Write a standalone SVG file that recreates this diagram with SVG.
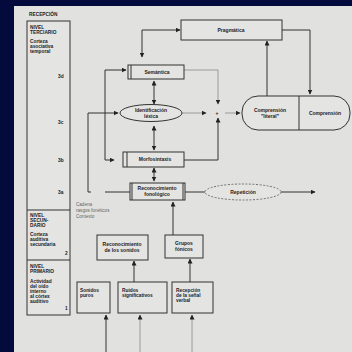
<svg xmlns="http://www.w3.org/2000/svg" width="352" height="352" viewBox="0 0 352 352">
<defs>
<marker id="ah" viewBox="0 0 10 10" refX="9" refY="5" markerWidth="5" markerHeight="5" orient="auto-start-reverse" markerUnits="userSpaceOnUse">
<path d="M0,0 L10,5 L0,10 z" fill="#222"/>
</marker>
<style>
.bx{fill:#e4e4e2;stroke:#333;stroke-width:1}
.ln{fill:none;stroke:#333;stroke-width:1}
.lg{fill:none;stroke:#888;stroke-width:0.8}
.t{font-family:"Liberation Sans",Arial,sans-serif;font-size:5px;fill:#222;font-weight:bold;text-anchor:middle}
.tl{font-family:"Liberation Sans",Arial,sans-serif;font-size:4.8px;fill:#222;font-weight:bold}
.tg{font-family:"Liberation Sans",Arial,sans-serif;font-size:4.6px;fill:#666}
</style>
</defs>
<rect width="352" height="352" fill="#030b3c"/>
<rect x="14" y="6" width="338" height="346" fill="#e1e1df"/>

<g id="levels">
<text class="tl" x="29" y="16">RECEPCIÓN</text>
<rect class="bx" x="27" y="21" width="43" height="294" fill="none"/>
<line class="ln" x1="27" y1="210" x2="70" y2="210"/>
<line class="ln" x1="27" y1="260" x2="70" y2="260"/>
<text class="tl" x="30" y="29">NIVEL</text>
<text class="tl" x="30" y="34">TERCIARIO</text>
<text class="tl" x="30" y="43">Corteza</text>
<text class="tl" x="30" y="48">asociativa</text>
<text class="tl" x="30" y="53">temporal</text>
<text class="tl" x="58" y="78">3d</text>
<text class="tl" x="58" y="124">3c</text>
<text class="tl" x="58" y="162">3b</text>
<text class="tl" x="58" y="194">3a</text>
<text class="tl" x="30" y="217">NIVEL</text>
<text class="tl" x="30" y="222">SECUN-</text>
<text class="tl" x="30" y="227">DARIO</text>
<text class="tl" x="30" y="236">Corteza</text>
<text class="tl" x="30" y="241">auditiva</text>
<text class="tl" x="30" y="246">secundaria</text>
<text class="tl" x="65" y="255">2</text>
<text class="tl" x="30" y="268">NIVEL</text>
<text class="tl" x="30" y="273">PRIMARIO</text>
<text class="tl" x="30" y="283">Actividad</text>
<text class="tl" x="30" y="288">del oído</text>
<text class="tl" x="30" y="293">interno</text>
<text class="tl" x="30" y="298">al córtex</text>
<text class="tl" x="30" y="303">auditivo</text>
<text class="tl" x="65" y="310">1</text>
</g>

<g id="connectors">
<polyline class="ln" points="142,57 142,30 180,30" marker-start="url(#ah)" marker-end="url(#ah)"/>
<polyline class="ln" points="282,30 310,30 310,94" marker-end="url(#ah)"/>
<line class="ln" x1="267" y1="96" x2="267" y2="41" marker-end="url(#ah)"/>
<polyline class="ln" points="114,160 105,160 105,70 126,70" marker-start="url(#ah)" marker-end="url(#ah)"/>
<polyline class="lg" points="184,70 218,70 218,104" marker-end="url(#ah)"/>
<polyline class="ln" points="184,160 218,160 218,118" marker-end="url(#ah)"/>
<line class="ln" x1="154" y1="81" x2="154" y2="104" marker-start="url(#ah)" marker-end="url(#ah)"/>
<line class="ln" x1="154" y1="126" x2="154" y2="150" marker-start="url(#ah)" marker-end="url(#ah)"/>
<line class="ln" x1="154" y1="168" x2="154" y2="181" marker-start="url(#ah)" marker-end="url(#ah)"/>
<polyline class="ln" points="91,192 88,192 88,113 118,113" marker-end="url(#ah)"/>
<line class="lg" x1="182" y1="113" x2="206" y2="113" marker-end="url(#ah)"/>
<line class="lg" x1="225" y1="113" x2="240" y2="113" marker-end="url(#ah)"/>
<line class="ln" x1="105" y1="192" x2="130" y2="192"/>
<line class="ln" x1="185" y1="192" x2="205" y2="192"/>
<line class="ln" x1="281" y1="192" x2="315" y2="192" marker-end="url(#ah)"/>
<line class="ln" x1="173" y1="235" x2="173" y2="202" marker-end="url(#ah)"/>
<line class="ln" x1="134" y1="282" x2="134" y2="261" marker-end="url(#ah)"/>
<line class="ln" x1="190" y1="282" x2="190" y2="259" marker-end="url(#ah)"/>
<line class="ln" x1="106" y1="352" x2="106" y2="315" stroke-width="1.4" marker-end="url(#ah)"/>
<line class="lg" x1="140" y1="352" x2="140" y2="315" marker-end="url(#ah)"/>
<line class="lg" x1="192" y1="352" x2="192" y2="315" marker-end="url(#ah)"/>
</g>

<g id="pragmatica">
<rect class="bx" x="181" y="20" width="101" height="20"/>
<text class="t" x="231" y="32">Pragmática</text>
</g>
<g id="semantica">
<rect class="bx" x="128" y="65" width="56" height="14"/>
<line class="ln" x1="131" y1="65" x2="131" y2="79" stroke-width="1.3"/>
<text class="t" x="157" y="74">Semántica</text>
</g>
<g id="identificacion">
<ellipse class="bx" cx="151" cy="113" rx="31" ry="8.5"/>
<text class="t" x="151" y="112">Identificación</text>
<text class="t" x="151" y="117.5">léxica</text>
</g>
<g id="morfosintaxis">
<rect class="bx" x="123" y="152" width="61" height="15"/>
<line class="ln" x1="127" y1="152" x2="127" y2="167" stroke-width="1.3"/>
<text class="t" x="155" y="161">Morfosintaxis</text>
</g>
<g id="reconocimiento-fonologico">
<rect class="bx" x="130" y="183" width="55" height="17"/>
<line class="ln" x1="132" y1="183" x2="132" y2="200"/>
<line class="ln" x1="183" y1="183" x2="183" y2="200"/>
<text class="t" x="157" y="190">Reconocimiento</text>
<text class="t" x="157" y="196">fonológico</text>
</g>
<g id="repeticion">
<ellipse cx="243" cy="192" rx="38" ry="8" fill="#e4e4e2" stroke="#555" stroke-width="0.8" stroke-dasharray="2,1.5"/>
<text class="t" x="243" y="194">Repetición</text>
</g>
<g id="junction">
<text class="t" x="217" y="115" font-size="6">+</text>
</g>
<g id="comprension">
<rect class="bx" x="242" y="96" width="108" height="34" rx="16" ry="16"/>
<line class="ln" x1="299" y1="96" x2="299" y2="130"/>
<text class="t" x="270" y="112">Comprensión</text>
<text class="t" x="270" y="117.5">"literal"</text>
<text class="t" x="325" y="115">Comprensión</text>
</g>
<g id="nota">
<text class="tg" x="76" y="206">Cadena</text>
<text class="tg" x="76" y="212">rasgos fonéticos</text>
<text class="tg" x="76" y="218">Contexto</text>
</g>
<g id="reconocimiento-sonidos">
<rect class="bx" x="97" y="235" width="51" height="25"/>
<text class="t" x="122" y="246">Reconocimiento</text>
<text class="t" x="122" y="252">de los sonidos</text>
</g>
<g id="grupos">
<rect class="bx" x="165" y="235" width="38" height="23"/>
<text class="t" x="184" y="245">Grupos</text>
<text class="t" x="184" y="251">fónicos</text>
</g>
<g id="sonidos-puros">
<rect class="bx" x="77" y="282" width="33" height="31"/>
<text class="tl" x="80" y="292">Sonidos</text>
<text class="tl" x="80" y="297">puros</text>
</g>
<g id="ruidos">
<rect class="bx" x="118" y="282" width="49" height="31"/>
<text class="tl" x="122" y="292">Ruidos</text>
<text class="tl" x="122" y="297">significativos</text>
</g>
<g id="recepcion-senal">
<rect class="bx" x="172" y="282" width="41" height="31"/>
<text class="tl" x="176" y="292">Recepción</text>
<text class="tl" x="176" y="297">de la señal</text>
<text class="tl" x="176" y="302">verbal</text>
</g>
</svg>
